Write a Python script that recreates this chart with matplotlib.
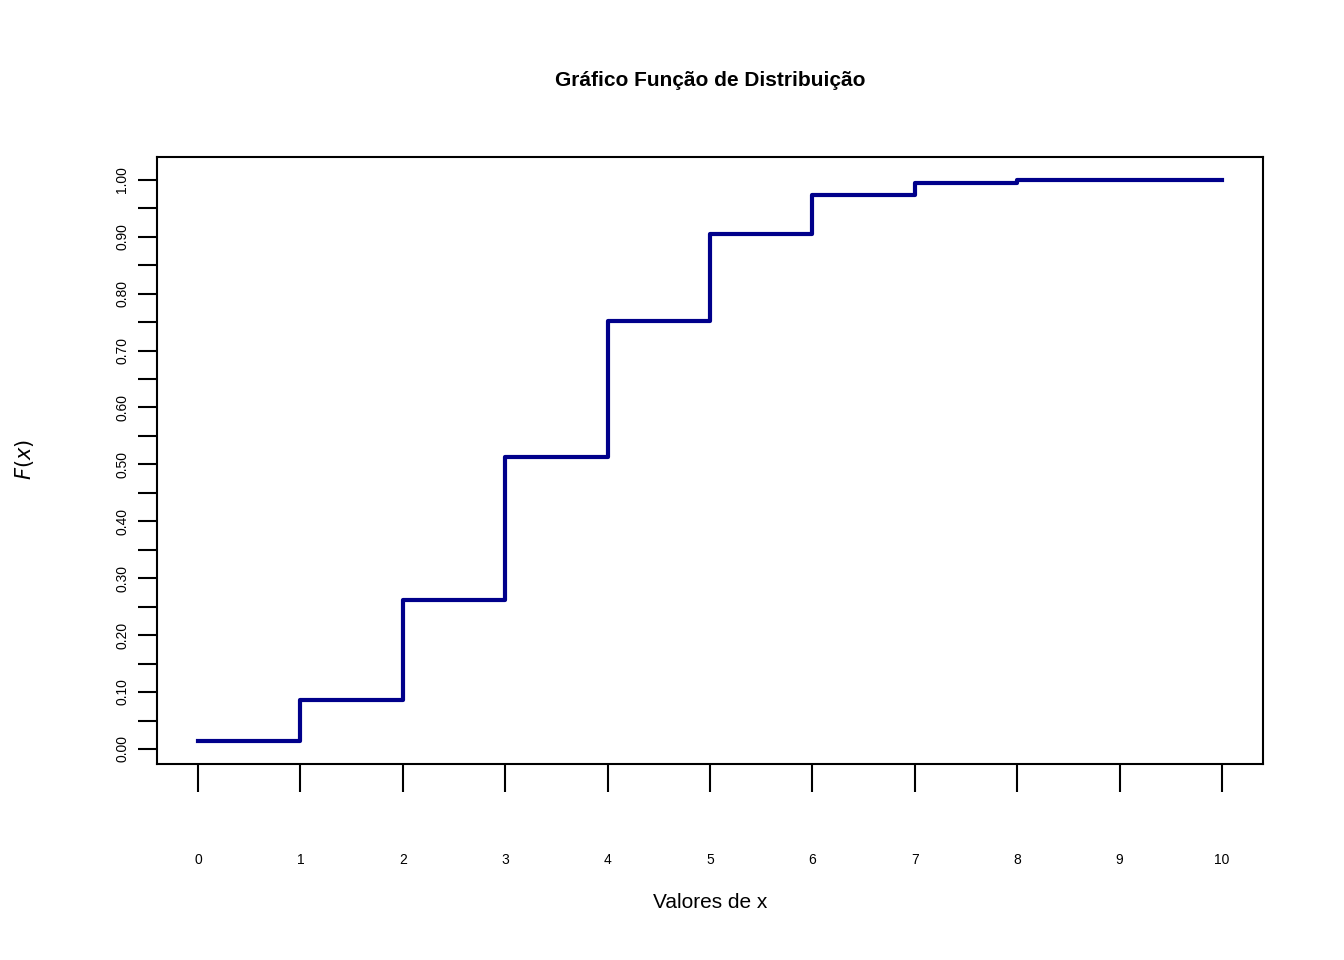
import matplotlib.pyplot as plt
import numpy as np

x_vals = [0, 1, 2, 3, 4, 5, 6, 7, 8, 9, 10]
cdf_vals = [0.0135, 0.0860, 0.2616, 0.5138, 0.7515, 0.9051, 0.9740, 0.9952, 0.9995, 0.99997, 1.0]
y_tick_labels = ["0.00", "0.10", "0.20", "0.30", "0.40", "0.50", "0.60", "0.70", "0.80", "0.90", "1.00"]

plt.rcParams['font.family'] = ['Liberation Sans', 'DejaVu Sans']

fig = plt.figure(figsize=(13.44, 9.6), dpi=100)
ax = fig.add_axes([157 / 1344, 1 - 764 / 960, (1263 - 157) / 1344, (764 - 157) / 960])

ax.step(x_vals, cdf_vals, where='post', color='#00008B', lw=3)
ax.set_xlim(-0.4, 10.4)
ax.set_ylim(-0.0264, 1.040)

ax.set_xticks(x_vals)
ax.set_xticklabels([str(v) for v in x_vals], fontsize=10)
ax.tick_params(axis='x', length=20, width=1.5, pad=44)

ax.set_yticks(np.arange(0, 1.0001, 0.05))
labels = []
for i in range(21):
    labels.append(y_tick_labels[i // 2] if i % 2 == 0 else "")
ax.set_yticklabels(labels, rotation=90, va='center', fontsize=10)
ax.tick_params(axis='y', length=14, width=1.5, pad=6)

for s in ax.spines.values():
    s.set_linewidth(1.5)

fig.text(710 / 1344, 1 - 80 / 960, "Gráfico Função de Distribuição", ha='center', va='center',
         fontsize=15, fontweight='bold')
fig.text(710 / 1344, 1 - 903 / 960, "Valores de x", ha='center', va='center', fontsize=15)
fig.text(24 / 1344, 1 - 460 / 960, "$\\mathit{F(x)}$", ha='center', va='center', fontsize=15, rotation=90)

fig.savefig("out.png", dpi=100, facecolor='white')
